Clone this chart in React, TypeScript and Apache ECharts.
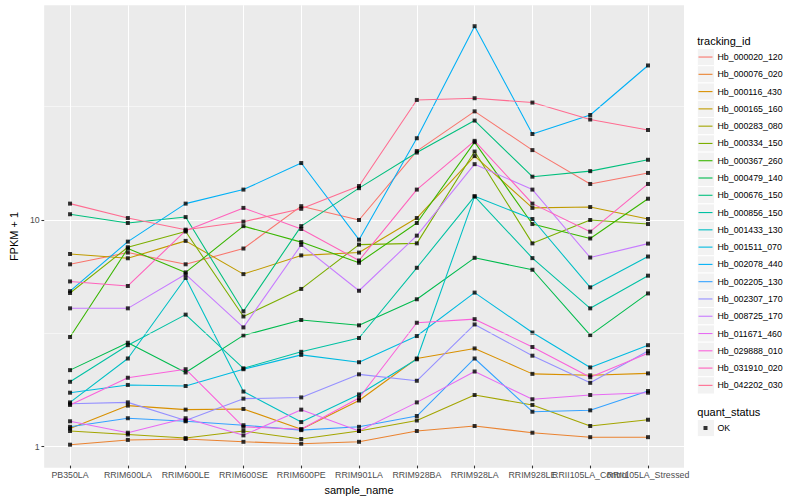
import React, { useEffect, useRef } from "react";
import * as echarts from "echarts";

const FONT = "'Liberation Sans', Arial, Helvetica, sans-serif";

const categories = [
  "PB350LA", "RRIM600LA", "RRIM600LE", "RRIM600SE", "RRIM600PE", "RRIM901LA",
  "RRIM928BA", "RRIM928LA", "RRIM928LE", "RRII105LA_Control", "RRII105LA_Stressed",
];

const trackingIds = [
  "Hb_000020_120", "Hb_000076_020", "Hb_000116_430", "Hb_000165_160", "Hb_000283_080",
  "Hb_000334_150", "Hb_000367_260", "Hb_000479_140", "Hb_000676_150", "Hb_000856_150",
  "Hb_001433_130", "Hb_001511_070", "Hb_002078_440", "Hb_002205_130", "Hb_002307_170",
  "Hb_008725_170", "Hb_011671_460", "Hb_029888_010", "Hb_031910_020", "Hb_042202_030",
];

const seriesColors = [
  "#F8766D", "#EA8331", "#D89000", "#C09B00", "#A3A500",
  "#7CAE00", "#39B600", "#00BB4E", "#00BF7D", "#00C1A3",
  "#00BFC4", "#00BAE0", "#00B0F6", "#35A2FF", "#9590FF",
  "#C77CFF", "#E76BF3", "#FA62DB", "#FF62BC", "#FF6C91",
];

// FPKM + 1 per sample, in category order
const hb_000020_120 = [6.3, 7.1, 6.3, 7.4, 11.4, 9.9, 20.0, 30.0, 20.2, 14.3, 16.0];
const hb_000076_020 = [1.0, 1.05, 1.06, 1.03, 1.01, 1.03, 1.15, 1.21, 1.13, 1.08, 1.08];
const hb_000116_430 = [1.18, 1.49, 1.43, 1.44, 1.17, 1.57, 2.41, 2.67, 2.06, 2.03, 2.07];
const hb_000165_160 = [7.0, 6.7, 8.0, 5.7, 6.9, 7.1, 10.1, 19.0, 11.2, 11.3, 10.0];
const hb_000283_080 = [1.15, 1.11, 1.07, 1.15, 1.06, 1.15, 1.28, 1.66, 1.5, 1.21, 1.29];
const hb_000334_150 = [4.7, 7.5, 8.8, 3.7, 4.9, 7.7, 7.8, 19.9, 7.8, 9.9, 9.5];
const hb_000367_260 = [3.0, 7.4, 5.8, 9.3, 7.9, 6.4, 9.6, 21.9, 9.5, 8.2, 12.3];
const hb_000479_140 = [2.14, 2.83, 2.09, 3.05, 3.57, 3.38, 4.41, 6.73, 5.96, 3.06, 4.68];
const hb_000676_150 = [10.5, 9.6, 10.2, 3.9, 9.3, 13.7, 19.7, 27.3, 15.4, 16.3, 18.3];
const hb_000856_150 = [1.9, 2.76, 3.77, 2.18, 2.58, 2.97, 6.08, 12.6, 6.71, 4.02, 5.61];
const hb_001433_130 = [1.54, 2.41, 5.48, 1.72, 1.26, 1.67, 2.39, 12.6, 10.0, 4.98, 6.82];
const hb_001511_070 = [1.7, 1.84, 1.82, 2.16, 2.5, 2.32, 3.03, 4.72, 3.14, 2.2, 2.76];
const hb_002078_440 = [4.79, 7.94, 11.7, 13.5, 17.7, 8.1, 22.8, 71.5, 23.8, 28.9, 47.9];
const hb_002205_130 = [1.2, 1.31, 1.27, 1.22, 1.16, 1.2, 1.34, 2.41, 1.4, 1.42, 1.73];
const hb_002307_170 = [1.52, 1.54, 1.28, 1.6, 1.62, 2.05, 1.92, 3.41, 2.48, 1.88, 2.6];
const hb_008725_170 = [4.02, 4.02, 5.69, 3.31, 7.68, 4.81, 8.44, 17.5, 13.5, 6.75, 7.78];
const hb_011671_460 = [1.27, 1.13, 1.31, 1.1, 1.43, 1.15, 1.54, 2.11, 1.59, 1.66, 1.7];
const hb_029888_010 = [1.5, 1.98, 2.16, 1.2, 1.17, 1.61, 3.47, 3.6, 2.71, 1.99, 2.54];
const hb_031910_020 = [5.29, 5.05, 8.88, 11.2, 9.03, 6.55, 13.5, 22.2, 11.7, 8.79, 14.3];
const hb_042202_030 = [11.7, 10.1, 8.97, 9.73, 11.1, 14.0, 33.7, 34.3, 32.8, 27.6, 24.8];

const seriesValues = [
  hb_000020_120, hb_000076_020, hb_000116_430, hb_000165_160, hb_000283_080,
  hb_000334_150, hb_000367_260, hb_000479_140, hb_000676_150, hb_000856_150,
  hb_001433_130, hb_001511_070, hb_002078_440, hb_002205_130, hb_002307_170,
  hb_008725_170, hb_011671_460, hb_029888_010, hb_031910_020, hb_042202_030,
];

const quantStatus = ["OK"];
const yTickValues = [1, 10];
const yMinorValues = [3.1623, 31.623];
const yMin = 0.808;
const yMax = 88.5;

const KEY_LEFT = 697.3;
const KEY_TOP = 48.4;
const KEY_SIZE = 17.28;
const KEY2_TOP = 419.4;

export default function App() {
  const ref = useRef<HTMLDivElement>(null);

  useEffect(() => {
    if (!ref.current) return;
    const chart = echarts.init(ref.current, null, { renderer: "svg" });

    const points: [number, number][] = [];
    seriesValues.forEach((vals) => vals.forEach((v, i) => points.push([i, v])));

    const lineSeries = trackingIds.map((id, k) => ({
      type: "line",
      name: id,
      xAxisIndex: 1,
      yAxisIndex: 1,
      data: seriesValues[k],
      symbol: "none",
      showSymbol: false,
      lineStyle: { width: 1.07, color: seriesColors[k] },
      itemStyle: { color: seriesColors[k] },
      emphasis: { disabled: true },
      silent: true,
      z: 3,
    }));

    const keyRects = [
      ...trackingIds.map((_, i) => ({
        type: "rect",
        shape: { x: KEY_LEFT, y: KEY_TOP + i * KEY_SIZE, width: KEY_SIZE, height: KEY_SIZE },
        style: { fill: "#F2F2F2", stroke: "#FFFFFF", lineWidth: 1 },
        z: 0,
      })),
      ...quantStatus.map((_, i) => ({
        type: "rect",
        shape: { x: KEY_LEFT, y: KEY2_TOP + i * KEY_SIZE, width: KEY_SIZE, height: KEY_SIZE },
        style: { fill: "#F2F2F2", stroke: "#FFFFFF", lineWidth: 1 },
        z: 0,
      })),
    ];

    const option = {
      animation: false,
      backgroundColor: "#FFFFFF",
      textStyle: { fontFamily: FONT },
      grid: [
        { left: 35.3, right: 116, top: 5.3, bottom: 32.3, show: true, backgroundColor: "#EBEBEB", borderWidth: 0 },
        { left: 70.05, right: 152, top: 5.3, bottom: 32.3, show: false },
      ],
      xAxis: [
        { type: "value", gridIndex: 0, min: 0, max: 1, show: false },
        {
          type: "category",
          gridIndex: 1,
          data: categories,
          boundaryGap: false,
          axisLine: { show: false },
          axisTick: { show: true, length: 2.75, lineStyle: { color: "#333333", width: 1.07 } },
          axisLabel: { interval: 0, margin: 4.5, color: "#4D4D4D", fontSize: 8.8, fontFamily: FONT, hideOverlap: false },
          splitLine: { show: true, lineStyle: { color: "#FFFFFF", width: 1.07 } },
          name: "sample_name",
          nameLocation: "middle",
          nameGap: 16,
          nameTextStyle: { color: "#000000", fontSize: 11, fontFamily: FONT },
        },
      ],
      yAxis: [
        {
          type: "log",
          logBase: 10,
          gridIndex: 0,
          min: yMin,
          max: yMax,
          axisLine: { show: false },
          axisTick: { show: true, length: 2.75, customValues: yTickValues, lineStyle: { color: "#333333", width: 1.07 } },
          axisLabel: { customValues: yTickValues, margin: 4.5, color: "#4D4D4D", fontSize: 8.8, fontFamily: FONT },
          splitLine: { show: true, lineStyle: { color: "#FFFFFF", width: 1.07 } },
          name: "FPKM + 1",
          nameLocation: "middle",
          nameRotate: 90,
          nameGap: 17,
          nameTextStyle: { color: "#000000", fontSize: 11, fontFamily: FONT },
        },
        { type: "log", logBase: 10, gridIndex: 1, min: yMin, max: yMax, show: false },
      ],
      legend: [
        {
          data: trackingIds,
          orient: "vertical",
          left: 698.5,
          top: KEY_TOP,
          padding: 0,
          itemGap: 0,
          itemWidth: 14,
          itemHeight: 1.1,
          icon: "rect",
          selectedMode: false,
          textStyle: { fontSize: 8.8, lineHeight: KEY_SIZE, color: "#000000", fontFamily: FONT },
        },
        {
          data: quantStatus,
          orient: "vertical",
          left: 698.5,
          top: KEY2_TOP,
          padding: 0,
          itemGap: 0,
          itemWidth: 14,
          itemHeight: 14,
          icon: "path://M0,0h0.01v0.01h-0.01z M5,5h4v4h-4z M13.99,13.99h0.01v0.01h-0.01z",
          selectedMode: false,
          textStyle: { fontSize: 8.8, lineHeight: KEY_SIZE, color: "#000000", fontFamily: FONT },
        },
      ],
      graphic: [
        ...keyRects,
        {
          type: "text",
          x: 697.3,
          y: 40.7,
          style: { text: "tracking_id", fill: "#000000", fontSize: 11, fontFamily: FONT, verticalAlign: "middle" },
        },
        {
          type: "text",
          x: 697.3,
          y: 411.7,
          style: { text: "quant_status", fill: "#000000", fontSize: 11, fontFamily: FONT, verticalAlign: "middle" },
        },
      ],
      series: [
        {
          type: "line",
          name: "minor-grid",
          xAxisIndex: 0,
          yAxisIndex: 0,
          data: [],
          silent: true,
          z: 1,
          markLine: {
            silent: true,
            symbol: ["none", "none"],
            label: { show: false },
            lineStyle: { color: "#FFFFFF", width: 0.53, type: "solid" },
            emphasis: { disabled: true },
            data: yMinorValues.map((v) => ({ yAxis: v })),
          },
        },
        ...lineSeries,
        {
          type: "scatter",
          name: "OK",
          xAxisIndex: 1,
          yAxisIndex: 1,
          data: points,
          symbol: "rect",
          symbolSize: 4,
          itemStyle: { color: "#000000" },
          silent: true,
          z: 4,
        },
      ],
    };

    chart.setOption(option as any);
    return () => chart.dispose();
  }, []);

  return <div ref={ref} style={{ position: "fixed", left: 0, top: 0, width: 800, height: 500 }} />;
}
